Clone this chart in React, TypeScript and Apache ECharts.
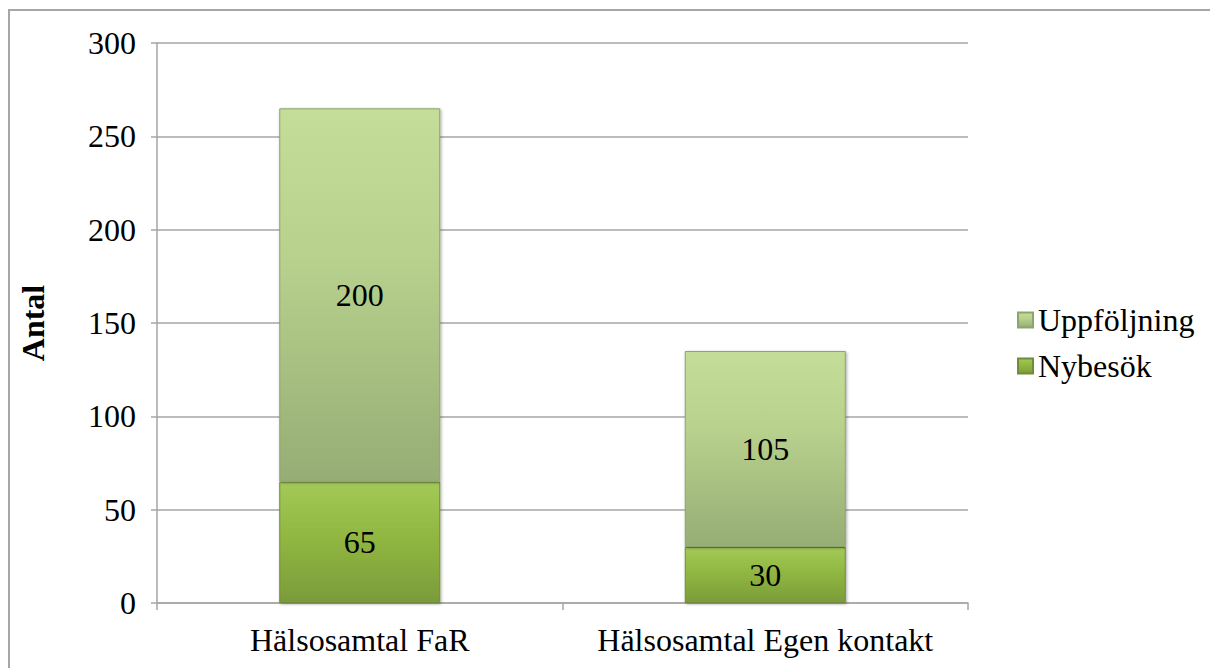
import React, { useEffect, useRef } from "react";
import * as echarts from "echarts";

const categories = ["Hälsosamtal FaR", "Hälsosamtal Egen kontakt"];
const nybesok = [65, 30];
const uppfoljning = [200, 105];
const yTicks = { min: 0, max: 300, interval: 50 };

const FONT = "Liberation Serif";
const FS = 32;

export default function App() {
  const ref = useRef<HTMLDivElement>(null);
  useEffect(() => {
    if (!ref.current) return;
    const chart = echarts.init(ref.current, undefined, { renderer: "svg" });
    const grad = (stops: [number, string][]) =>
      new echarts.graphic.LinearGradient(
        0,
        0,
        0,
        1,
        stops.map(([offset, color]) => ({ offset, color }))
      );
    const labelStyle = {
      show: true,
      position: "inside",
      fontFamily: FONT,
      fontSize: FS,
      fontWeight: "normal",
      color: "#000",
    };
    chart.setOption({
      animation: false,
      textStyle: { fontFamily: FONT },
      graphic: [
        {
          type: "rect",
          shape: { x: 9, y: 10, width: 1300, height: 800 },
          style: { fill: "none", stroke: "#a6a6a6", lineWidth: 2 },
          silent: true,
          z: 0,
        },
      ],
      grid: { left: 157, right: 242, top: 43, bottom: 65 },
      legend: {
        orient: "vertical",
        left: 1012,
        top: 299,
        itemWidth: 15,
        itemHeight: 15,
        itemGap: 14,
        icon: "rect",
        data: ["Uppföljning", "Nybesök"],
        textStyle: { fontFamily: FONT, fontSize: FS, color: "#000" },
      },
      xAxis: {
        type: "category",
        data: categories,
        axisLine: { lineStyle: { color: "#a6a6a6", width: 1.5 } },
        axisTick: { show: true, length: 7, lineStyle: { color: "#a6a6a6", width: 1.5 } },
        axisLabel: {
          interval: 0,
          fontFamily: FONT,
          fontSize: FS,
          color: "#000",
          margin: 21,
        },
      },
      yAxis: {
        type: "value",
        min: yTicks.min,
        max: yTicks.max,
        interval: yTicks.interval,
        name: "Antal",
        nameLocation: "middle",
        nameGap: 108,
        nameRotate: 90,
        nameTextStyle: { fontFamily: FONT, fontSize: FS, fontWeight: "bold", color: "#000" },
        axisLine: { show: true, lineStyle: { color: "#a6a6a6", width: 1.5 } },
        axisTick: { show: true, length: 6, lineStyle: { color: "#a6a6a6", width: 1.5 } },
        axisLabel: {
          fontFamily: FONT,
          fontSize: FS,
          fontWeight: "normal",
          color: "#000",
          margin: 21,
        },
        splitLine: { lineStyle: { color: "#a6a6a6", width: 1.5 } },
      },
      series: [
        {
          name: "Nybesök",
          type: "bar",
          stack: "total",
          barWidth: 161,
          data: nybesok,
          itemStyle: {
            color: grad([
              [0, "#a3c957"],
              [0.5, "#8fb540"],
              [1, "#7b9b3a"],
            ]),
            borderColor: "#6f8c3a",
            borderWidth: 1,
            shadowColor: "rgba(0,0,0,0.35)",
            shadowBlur: 3,
            shadowOffsetX: 1,
            shadowOffsetY: 1,
          },
          label: labelStyle,
        },
        {
          name: "Uppföljning",
          type: "bar",
          stack: "total",
          barWidth: 161,
          data: uppfoljning,
          itemStyle: {
            color: grad([
              [0, "#c4dd99"],
              [0.4, "#b8d18d"],
              [1, "#96ad74"],
            ]),
            borderColor: "#8da46c",
            borderWidth: 1,
            shadowColor: "rgba(0,0,0,0.35)",
            shadowBlur: 3,
            shadowOffsetX: 1,
            shadowOffsetY: 1,
          },
          label: labelStyle,
        },
      ],
    });
    return () => chart.dispose();
  }, []);
  return (
    <div
      ref={ref}
      style={{ position: "absolute", left: 0, top: 0, width: 1210, height: 668, background: "#fff" }}
    />
  );
}
